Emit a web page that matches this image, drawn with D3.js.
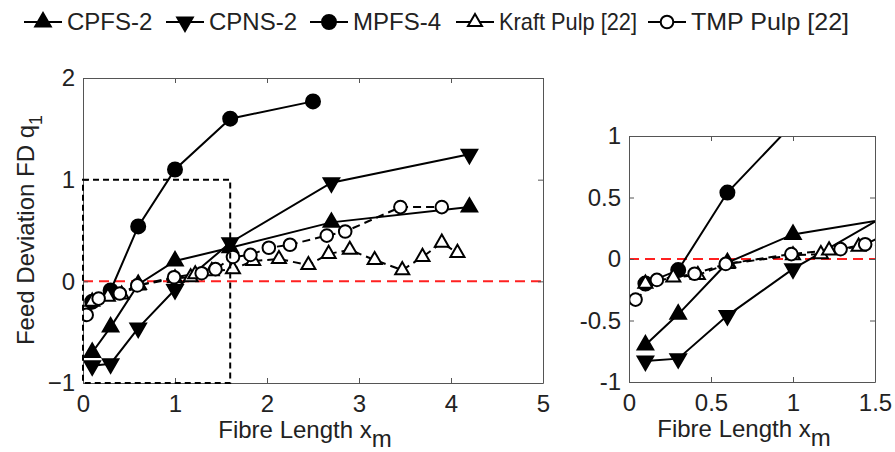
<!DOCTYPE html>
<html>
<head>
<meta charset="utf-8">
<script src="https://cdn.jsdelivr.net/npm/d3@7"></script>
<style>
  body { margin: 0; background: #fff; }
  text { font-family: "Liberation Sans", Arial, sans-serif; fill: #222; }
</style>
</head>
<body>
<svg id="chart" width="895" height="452"></svg>
<script>
// series values
const cpfsX = [0.1, 0.3, 0.6, 1.0, 1.6, 2.7, 4.2]
const cpfsY = [-0.7, -0.45, -0.03, 0.2, 0.33, 0.58, 0.73]
const cpnsX = [0.1, 0.3, 0.6, 1.0, 1.6, 2.7, 4.2]
const cpnsY = [-0.83, -0.81, -0.46, -0.08, 0.38, 0.97, 1.25]
const mpfsX = [0.1, 0.3, 0.6, 1.0, 1.6, 2.5]
const mpfsY = [-0.2, -0.09, 0.54, 1.1, 1.6, 1.77]
const kraftX = [0.1, 0.27, 0.42, 0.6, 1.0, 1.17, 1.22, 1.4, 1.63, 1.85, 2.13, 2.45, 2.67, 2.9, 3.17, 3.47, 3.69, 3.9, 4.07]
const kraftY = [-0.2, -0.15, -0.13, -0.04, 0.03, 0.04, 0.07, 0.1, 0.12, 0.2, 0.22, 0.16, 0.27, 0.31, 0.21, 0.11, 0.24, 0.38, 0.28]
const tmpX = [0.04, 0.17, 0.4, 0.59, 0.99, 1.29, 1.44, 1.63, 1.82, 2.02, 2.25, 2.65, 2.85, 3.45, 3.9]
const tmpY = [-0.33, -0.17, -0.12, -0.04, 0.04, 0.08, 0.12, 0.24, 0.26, 0.33, 0.36, 0.45, 0.49, 0.73, 0.73]

const seriesNames = ['CPFS-2', 'CPNS-2', 'MPFS-4', 'Kraft Pulp [22]', 'TMP Pulp [22]']
const markerKinds = ['triUp', 'triDown', 'circle', 'triOpen', 'circleOpen']
const dashed = [false, false, false, true, true]

const leftXTicks = [0, 1, 2, 3, 4, 5]
const leftYTicks = [-1, 0, 1, 2]
const rightXTicks = [0, 0.5, 1, 1.5]
const rightYTicks = [-1, -0.5, 0, 0.5, 1]
const zoomBox = { x0: 0, x1: 1.6, y0: -1, y1: 1 }

let series = [[cpfsX, cpfsY], [cpnsX, cpnsY], [mpfsX, mpfsY], [kraftX, kraftY], [tmpX, tmpY]].map(function (s, i) {
    return {
        name: seriesNames[i], kind: markerKinds[i], dashed: dashed[i],
        pts: s[0].map(function (x, j) { return { x: x, y: s[1][j] } })
    }
})

const svg = d3.select('#chart')

function marker(sel, kind) {
    if (kind === 'circle' || kind === 'circleOpen') {
        sel.append('circle').attr('r', kind === 'circle' ? 7 : 6.3)
            .attr('fill', kind === 'circle' ? '#000' : '#fff')
            .attr('stroke', '#000').attr('stroke-width', 2)
    } else {
        sel.append('path')
            .attr('d', d3.symbol().type(d3.symbolTriangle).size(kind === 'triOpen' ? 85 : 105))
            .attr('transform', kind === 'triDown' ? 'rotate(180)' : null)
            .attr('fill', kind === 'triOpen' ? '#fff' : '#000')
            .attr('stroke', '#000').attr('stroke-width', 2)
    }
}

function panel(id, xr, yr, xDom, yDom, xTicks, yTicks, fmt) {
    const x = d3.scaleLinear().domain(xDom).range(xr)
    const y = d3.scaleLinear().domain(yDom).range(yr)
    const g = svg.append('g')

    svg.append('clipPath').attr('id', id).append('rect')
        .attr('x', xr[0]).attr('y', yr[1]).attr('width', xr[1] - xr[0]).attr('height', yr[0] - yr[1])

    // zero line
    g.append('line').attr('x1', xr[0]).attr('x2', xr[1]).attr('y1', y(0)).attr('y2', y(0))
        .attr('stroke', '#ff2020').attr('stroke-width', 2).attr('stroke-dasharray', '10,6')

    const plot = g.append('g').attr('clip-path', 'url(#' + id + ')')
    const line = d3.line().x(function (d) { return x(d.x) }).y(function (d) { return y(d.y) })

    series.forEach(function (s) {
        plot.append('path').datum(s.pts).attr('d', line)
            .attr('fill', 'none').attr('stroke', '#000').attr('stroke-width', 2)
            .attr('stroke-dasharray', s.dashed ? '8,5' : null)
    })
    series.forEach(function (s) {
        plot.selectAll(null).data(s.pts).enter().append('g')
            .attr('transform', function (d) { return 'translate(' + x(d.x) + ',' + y(d.y) + ')' })
            .each(function () { marker(d3.select(this), s.kind) })
    })

    // box axes with inward ticks, MATLAB style
    const frame = g.append('g')
    frame.append('g').attr('class', 'xb').attr('transform', 'translate(0,' + yr[0] + ')')
        .call(d3.axisBottom(x).tickValues(xTicks).tickSizeInner(-5).tickSizeOuter(0).tickPadding(10).tickFormat(fmt))
    frame.append('g').attr('transform', 'translate(0,' + yr[1] + ')')
        .call(d3.axisTop(x).tickValues(xTicks).tickSizeInner(-5).tickSizeOuter(0).tickFormat(''))
    frame.append('g').attr('transform', 'translate(' + xr[0] + ',0)')
        .call(d3.axisLeft(y).tickValues(yTicks).tickSizeInner(-5).tickSizeOuter(0).tickPadding(8).tickFormat(fmt))
    frame.append('g').attr('transform', 'translate(' + xr[1] + ',0)')
        .call(d3.axisRight(y).tickValues(yTicks).tickSizeInner(-5).tickSizeOuter(0).tickFormat(''))
    frame.selectAll('.domain, .tick line').attr('stroke', '#555')
    frame.selectAll('text').style('font-size', '24px').attr('fill', '#222')
        .style('font-family', '"Liberation Sans", Arial, sans-serif')
    frame.select('.xb').selectAll('.tick text').attr('dy', '0.78em')

    // x label
    const xl = g.append('text').attr('x', (xr[0] + xr[1]) / 2 - 8).attr('y', yr[0] + 55)
        .attr('text-anchor', 'middle').style('font-size', '24px')
    xl.append('tspan').text('Fibre Length x')
    xl.append('tspan').attr('dy', 9).text('m')
    return { x: x, y: y, g: g }
}

const L = panel('clipL', [83, 543], [383, 78], [0, 5], [-1, 2], leftXTicks, leftYTicks, d3.format('d'))
const R = panel('clipR', [629, 875], [382, 136], [0, 1.5], [-1, 1], rightXTicks, rightYTicks, function (d) { return String(d) })

// dashed zoom region on the left panel
L.g.append('rect')
    .attr('x', L.x(zoomBox.x0)).attr('y', L.y(zoomBox.y1))
    .attr('width', L.x(zoomBox.x1) - L.x(zoomBox.x0)).attr('height', L.y(zoomBox.y0) - L.y(zoomBox.y1))
    .attr('fill', 'none').attr('stroke', '#000').attr('stroke-width', 2).attr('stroke-dasharray', '6,4')

// y label
const yl = svg.append('text').attr('transform', 'translate(34,230) rotate(-90)')
    .attr('text-anchor', 'middle').style('font-size', '24px')
yl.append('tspan').text('Feed Deviation FD q')
yl.append('tspan').attr('dy', 8).style('font-size', '18px').text('1')

// legend
const legendX = [24, 166, 310, 456, 648]
const legendTextW = [null, null, null, 138, 158]
const leg = svg.append('g')
series.forEach(function (s, i) {
    const item = leg.append('g').attr('transform', 'translate(' + legendX[i] + ',22)')
    item.append('line').attr('x1', 0).attr('x2', 38).attr('stroke', '#000').attr('stroke-width', 2)
    marker(item.append('g').attr('transform', 'translate(19,0)'), s.kind)
    const t = item.append('text').attr('x', 43).attr('dy', '0.35em').style('font-size', '24px').text(s.name)
    if (legendTextW[i]) t.attr('textLength', legendTextW[i]).attr('lengthAdjust', 'spacingAndGlyphs')
})
</script>
</body>
</html>
